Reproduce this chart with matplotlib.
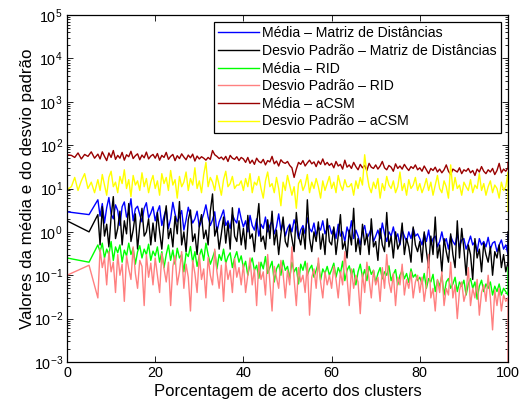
import matplotlib
matplotlib.use('Agg')
import matplotlib.pyplot as plt
from matplotlib.ticker import LogLocator, NullFormatter, FixedLocator

plt.rcParams['font.family'] = ['Liberation Sans', 'DejaVu Sans']
plt.rcParams['mathtext.fontset'] = 'custom'
plt.rcParams['mathtext.rm'] = 'Liberation Sans'
plt.rcParams['mathtext.it'] = 'Liberation Sans:italic'
plt.rcParams['mathtext.default'] = 'regular'

# eixo x (porcentagem de acerto) - parte densa
x_denso = [7, 7.5, 8, 8.5, 9, 9.5, 10, 10.5, 11, 11.5, 12, 12.5, 13, 13.5, 14, 14.5, 15, 15.5, 16, 16.5,
           17, 17.5, 18, 18.5, 19, 19.5, 20, 20.5, 21, 21.5, 22, 22.5, 23, 23.5, 24, 24.5, 25, 25.5, 26, 26.5,
           27, 27.5, 28, 28.5, 29, 29.5, 30, 30.5, 31, 31.5, 32, 32.5, 33, 33.5, 34, 34.5, 35, 35.5, 36, 36.5,
           37, 37.5, 38, 38.5, 39, 39.5, 40, 40.5, 41, 41.5, 42, 42.5, 43, 43.5, 44, 44.5, 45, 45.5, 46, 46.5,
           47, 47.5, 48, 48.5, 49, 49.5, 50, 50.5, 51, 51.5, 52, 52.5, 53, 53.5, 54, 54.5, 55, 55.5, 56, 56.5,
           57, 57.5, 58, 58.5, 59, 59.5, 60, 60.5, 61, 61.5, 62, 62.5, 63, 63.5, 64, 64.5, 65, 65.5, 66, 66.5,
           67, 67.5, 68, 68.5, 69, 69.5, 70, 70.5, 71, 71.5, 72, 72.5, 73, 73.5, 74, 74.5, 75, 75.5, 76, 76.5,
           77, 77.5, 78, 78.5, 79, 79.5, 80, 80.5, 81, 81.5, 82, 82.5, 83, 83.5, 84, 84.5, 85, 85.5, 86, 86.5,
           87, 87.5, 88, 88.5, 89, 89.5, 90, 90.5, 91, 91.5, 92, 92.5, 93, 93.5, 94, 94.5, 95, 95.5, 96, 96.5,
           97, 97.5, 98, 98.5, 99, 99.5, 100]
x_ini_md = [0, 0, 5]
x_ini_acsm = [0, 0, 1, 1.75, 2.5, 3.25, 4, 4.75, 5.5, 6.25]
x_fim = [100]

# Média - Matriz de Distâncias
media_md = [5.5, 2.9, 2.5,
            5.5, 2.3, 4.5, 1.6, 3.6, 6.2, 2.6, 2.0, 4.2, 3.1, 1.4, 3.8, 4.9, 2.2, 2.9, 5.8, 1.8, 3.4, 3.9, 2.5,
            1.7, 3.5, 4.7, 2.1, 2.7, 3.8,
            1.8, 2.9, 4.0, 1.4, 2.3, 3.4, 1.2, 2.0, 4.8, 2.6, 1.7, 2.2, 3.1, 1.1, 1.9, 3.7, 2.4, 1.6, 2.0, 3.0,
            1.3, 1.8, 2.6, 4.2, 2.2, 1.4, 1.9, 2.9, 1.0, 1.7, 2.3, 3.2, 1.4, 1.8, 1.2, 2.5, 1.9, 1.6, 3.5, 2.0,
            1.3, 1.8, 1.0, 2.4, 1.4, 1.1, 2.0, 0.8, 1.5, 1.2, 2.2, 1.0, 1.4, 1.8, 0.9, 1.3, 2.6, 1.1, 1.6, 0.8,
            1.2, 1.5, 1.0, 1.9, 1.3, 0.7, 1.1, 1.4, 0.9, 2.1, 1.2, 1.0, 1.6, 0.8, 1.3, 1.1, 1.8, 0.9, 1.2, 1.4,
            0.9, 1.2, 0.7, 1.5, 0.8, 1.0, 0.6, 1.3, 0.9, 1.8, 0.7, 1.1, 0.8, 0.5, 1.0, 1.4, 0.7, 0.9, 1.2, 0.6,
            0.8, 1.1, 0.7, 1.6, 0.9, 0.6, 1.0, 0.8, 1.3, 0.7, 0.9, 0.5, 1.1, 0.8, 0.6, 1.0, 0.7, 1.2, 0.8, 0.9,
            0.7, 0.5, 0.9, 0.6, 1.1, 0.5, 0.7, 0.8, 0.45, 0.6, 1.0, 0.55, 0.7, 0.4, 0.8, 0.6, 0.5, 0.9, 0.45, 0.65,
            0.7, 0.4, 0.55, 0.8, 0.5, 0.6, 0.35, 0.7, 0.5, 0.6, 0.45, 0.75, 0.4, 0.55, 0.6, 0.35, 0.5, 0.65, 0.4,
            0.5, 0.3,
            0.85]

# Desvio Padrão - Matriz de Distâncias
desvio_md = [1.8, 1.8, 1.0,
             2.5, 0.5, 3.8, 0.8, 1.5, 0.45, 2.2, 6.5, 0.7, 1.2, 3.0, 0.5, 1.8, 0.9, 4.5, 0.6, 1.1, 2.6, 0.4, 1.4,
             3.5, 0.8, 1.0, 2.0, 0.5, 1.6,
             0.6, 2.8, 1.0, 0.4, 1.7, 4.0, 0.7, 1.2, 0.45, 2.3, 0.9, 5.0, 0.5, 1.0, 0.35, 1.9, 3.2, 0.6, 0.9, 0.3,
             1.4, 2.5, 0.7, 1.1, 0.5, 3.0, 7.5, 0.8, 1.3, 0.4, 0.9, 2.2, 0.55, 1.6, 0.4, 3.6, 0.8, 0.6, 1.8, 0.5,
             1.2, 0.4, 2.4, 0.7, 0.9, 0.35, 1.5, 4.5, 0.6, 0.8, 0.4, 1.9, 0.7, 3.0, 0.5, 1.1, 0.3, 0.9, 2.2, 0.6,
             0.45, 1.4, 0.7, 0.35, 2.8, 0.8, 0.5, 1.2, 0.4, 5.5, 0.7, 0.35, 1.0, 0.6, 1.7, 0.4, 0.9, 0.3, 2.0, 0.6,
             0.5, 1.3, 0.3, 0.8, 2.5, 0.4, 0.6, 0.25, 1.1, 0.5, 3.5, 0.35, 0.7, 0.3, 1.5, 0.5, 0.9, 0.3, 2.0, 0.45,
             0.6, 0.22, 1.2, 0.5, 0.35, 2.8, 0.45, 0.8, 0.25, 1.0, 0.4, 0.55, 1.6, 0.3, 0.7, 0.45, 0.2, 1.3, 0.5, 0.35,
             0.6, 0.2, 1.0, 0.35, 0.15, 0.8, 0.3, 2.2, 0.25, 0.5, 0.12, 0.7, 0.35, 0.2, 0.9, 0.3, 0.15, 1.8, 0.25, 1.2,
             0.4, 0.1, 0.5, 0.3, 0.08, 0.7, 0.25, 0.4, 0.12, 0.55, 0.3, 0.2, 0.45, 0.1, 0.35, 0.25, 0.5, 0.15, 0.3,
             0.12, 0.2,
             1.0]

# Média - RID
media_rid = [1.6, 0.25, 0.2,
             0.5, 0.35, 0.55, 0.25, 0.4, 0.3, 0.6, 0.22, 0.45, 0.33, 0.5, 0.2, 0.38, 0.28, 0.55, 0.3, 0.42, 0.18,
             0.35, 0.48, 0.25, 0.4, 0.3, 0.52, 0.22, 0.36,
             0.28, 0.45, 0.2, 0.35, 0.15, 0.3, 0.5, 0.22, 0.38, 0.18, 0.42, 0.25, 0.3, 0.12, 0.33, 0.27, 0.46, 0.2,
             0.35, 0.16, 0.28, 0.4, 0.22, 0.55, 0.3, 0.18, 0.25, 0.36, 0.14, 0.3, 0.22, 0.4, 0.19, 0.27, 0.33, 0.15,
             0.25, 0.35, 0.2, 0.28,
             0.15, 0.21, 0.1, 0.18, 0.25, 0.13, 0.17, 0.085, 0.2, 0.14, 0.27, 0.11, 0.15, 0.21, 0.07, 0.14, 0.18,
             0.1, 0.22, 0.13, 0.16, 0.085, 0.2, 0.12, 0.15, 0.063, 0.18, 0.13, 0.21, 0.1, 0.14, 0.17, 0.09, 0.13,
             0.19, 0.077, 0.14, 0.11, 0.16, 0.1,
             0.135, 0.19, 0.09, 0.15, 0.11, 0.21, 0.075, 0.13, 0.165, 0.1, 0.14, 0.06, 0.12, 0.18, 0.09, 0.135,
             0.075, 0.16, 0.105, 0.13, 0.068, 0.11, 0.15, 0.083, 0.12, 0.1, 0.165, 0.075, 0.105, 0.135, 0.06, 0.1,
             0.13, 0.083, 0.11, 0.068, 0.14, 0.09, 0.105, 0.075,
             0.09, 0.063, 0.11, 0.05, 0.084, 0.07, 0.105, 0.042, 0.077, 0.056, 0.1, 0.035, 0.07, 0.084, 0.05, 0.063,
             0.09, 0.042, 0.07, 0.056, 0.077, 0.035, 0.063, 0.084, 0.05, 0.07, 0.028, 0.056, 0.077, 0.042, 0.063,
             0.05, 0.07, 0.035, 0.056, 0.042, 0.063, 0.035, 0.05, 0.042, 0.035,
             0.15]

# Desvio Padrão - RID
desvio_rid = [0.0009, 0.1, 0.17,
              0.03, 0.4, 0.15, 0.25, 0.06, 0.35, 0.12, 0.2, 0.04, 0.3, 0.1, 0.18, 0.025, 0.28, 0.14, 0.08, 0.45,
              0.11, 0.05, 0.22, 0.16, 0.02, 0.3, 0.09, 0.19, 0.06,
              0.25, 0.1, 0.04, 0.32, 0.14, 0.07, 0.2, 0.02, 0.16, 0.28, 0.06, 0.12, 0.35, 0.05, 0.18, 0.09, 0.015,
              0.22, 0.11, 0.04, 0.3, 0.08, 0.14, 0.03, 0.26, 0.1, 0.06, 0.4, 0.12, 0.05, 0.17, 0.025, 0.2, 0.08,
              0.13, 0.04, 0.24, 0.09, 0.15, 0.06,
              0.18, 0.04, 0.1, 0.25, 0.06, 0.14, 0.02, 0.2, 0.08, 0.12, 0.035, 0.3, 0.07, 0.015, 0.16, 0.09, 0.05,
              0.22, 0.11, 0.03, 0.13, 0.06, 0.45, 0.08, 0.02, 0.15, 0.07, 0.1, 0.04, 0.19, 0.012, 0.09, 0.14, 0.05,
              0.25, 0.07, 0.03, 0.12, 0.06, 0.1,
              0.05, 0.16, 0.08, 0.03, 0.12, 0.06, 0.35, 0.09, 0.02, 0.14, 0.05, 0.1, 0.07, 0.013, 0.11, 0.04, 0.2,
              0.08, 0.03, 0.13, 0.06, 0.09, 0.025, 0.15, 0.05, 0.3, 0.07, 0.04, 0.11, 0.02, 0.09, 0.06, 0.18, 0.035,
              0.08, 0.05, 0.12, 0.03, 0.07, 0.1,
              0.04, 0.09, 0.025, 0.06, 0.3, 0.03, 0.05, 0.015, 0.08, 0.04, 0.12, 0.02, 0.05, 0.035, 0.2, 0.03, 0.06,
              0.01, 0.045, 0.07, 0.025, 0.04, 0.15, 0.02, 0.05, 0.03, 0.08, 0.012, 0.04, 0.06, 0.025, 0.1, 0.03,
              0.0055, 0.045, 0.02, 0.05, 0.015, 0.035, 0.025, 0.03,
              0.0009]

# Média - aCSM
media_acsm = [45, 60, 58, 52, 66, 48, 61, 55, 70, 50,
              62, 48, 70, 55, 44, 66, 52, 75, 47, 58, 50, 68, 45, 60, 54, 72, 49, 57, 63, 46, 59, 51, 69, 48, 56, 61,
              50, 64, 45, 58, 52, 68, 47, 55, 61, 44, 57, 49, 63, 53, 46, 59, 51, 62, 43, 56,
              48, 54, 50, 45, 52, 47, 75, 60, 55, 49, 53, 46, 55, 42, 58, 50, 47, 54, 44, 52,
              48, 40, 52, 38, 45, 36, 50, 42, 39, 47, 35, 44, 41, 55, 37, 43, 33, 46, 40, 38,
              42, 34, 30, 18, 28, 40, 36, 44, 33, 39, 45, 37, 41, 32, 43, 36, 48, 35, 40, 34,
              38, 30, 42, 33, 36, 28, 45, 31, 35, 29, 40, 32, 27, 36, 30, 34, 26, 38, 31, 29,
              35, 28, 33, 42, 30, 27, 34, 31, 25, 37, 29, 33, 28, 36, 30, 26, 32, 29, 35, 27,
              30, 25, 33, 27, 22, 29, 26, 31, 24, 28, 23, 27, 35, 25, 21, 28, 26, 24, 30, 22,
              27, 25, 29, 23, 26, 20, 28, 24, 32, 25, 22, 27, 24, 29, 21, 26, 38, 23, 28, 25, 30,
              40]

# Desvio Padrão - aCSM
desvio_acsm = [30, 9.5, 11, 18, 9, 15, 22, 10, 14, 8,
               16, 9, 21, 12, 7, 18, 25, 11, 14, 8, 19, 13, 27, 10, 16, 6.5, 20, 12, 15, 9, 23, 11, 17, 8, 14, 20,
               10, 15, 7, 22, 13, 18, 9, 26, 12, 16, 6, 19, 11, 14, 24, 9, 17, 12, 30, 10,
               15, 8, 21, 40, 11, 18, 14, 9, 20, 12, 7, 16, 25, 11, 13, 19, 10, 12, 12, 15,
               9, 17, 11, 22, 8, 14, 12, 19, 10, 6, 15, 24, 11, 13, 8, 18, 10, 4, 14, 9,
               20, 12, 7, 11, 3.5, 13, 16, 9, 12, 21, 8, 14, 10, 17, 11, 6, 15, 9, 13, 19,
               10, 14, 8, 20, 12, 9, 16, 11, 11, 13, 7, 15, 10, 18, 12, 60, 22, 11, 8, 14,
               10, 17, 6, 13, 9, 19, 12, 10, 15, 8, 11, 24, 9, 13, 7, 16, 10, 12, 18, 9,
               13, 8, 11, 17, 9, 14, 7, 12, 20, 10, 8, 15, 11, 6, 35, 9, 18, 10, 12, 7,
               14, 11, 9, 16, 8, 12, 10, 22, 9, 13, 7, 11, 15, 8, 12, 10, 6, 14, 9, 11, 24,
               3]

x_md = x_ini_md + x_denso + x_fim
x_acsm = x_ini_acsm + x_denso + x_fim

series = [
    (x_md, media_md, (0, 0, 1), 'Média – Matriz de Distâncias'),
    (x_md, desvio_md, (0, 0, 0), 'Desvio Padrão – Matriz de Distâncias'),
    (x_md, media_rid, (0, 1, 0), 'Média – RID'),
    (x_md, desvio_rid, (1, 0.5, 0.5), 'Desvio Padrão – RID'),
    (x_acsm, media_acsm, (0.6, 0, 0), 'Média – aCSM'),
    (x_acsm, desvio_acsm, (1, 1, 0), 'Desvio Padrão – aCSM'),
]

fig = plt.figure(figsize=(5.28, 4.03), dpi=100)
ax = fig.add_axes([67 / 528, 1 - 362 / 403, (508 - 67) / 528, (362 - 15) / 403])

for xs, ys, cor, rotulo in series:
    ax.plot(xs, ys, color=cor, lw=1.0, label=rotulo)

ax.set_yscale('log')
ax.set_xlim(0, 100)
ax.set_ylim(1e-3, 1e5)
ax.xaxis.set_major_locator(FixedLocator([0, 20, 40, 60, 80, 100]))
ax.yaxis.set_major_locator(LogLocator(base=10, numticks=20))
ax.yaxis.set_minor_locator(LogLocator(base=10, subs=range(2, 10), numticks=20))
ax.yaxis.set_minor_formatter(NullFormatter())
ax.tick_params(which='both', direction='in', top=True, right=True, labelsize=10.4, width=0.6)
ax.tick_params(which='major', length=4.5, pad=3)
ax.tick_params(which='minor', length=2.2)
for s in ax.spines.values():
    s.set_linewidth(0.9)

ax.set_xlabel('Porcentagem de acerto dos clusters', fontsize=12, labelpad=3)
ax.set_ylabel('Valores da média e do desvio padrão', fontsize=12.2, labelpad=-1)

leg = ax.legend(loc='upper right', fontsize=10.1, fancybox=False, edgecolor='black',
                framealpha=1, handlelength=2.9, labelspacing=0.26, borderaxespad=0.5,
                handletextpad=0.25, borderpad=0.3)
leg.get_frame().set_linewidth(0.9)

fig.savefig('out.png', dpi=100)
